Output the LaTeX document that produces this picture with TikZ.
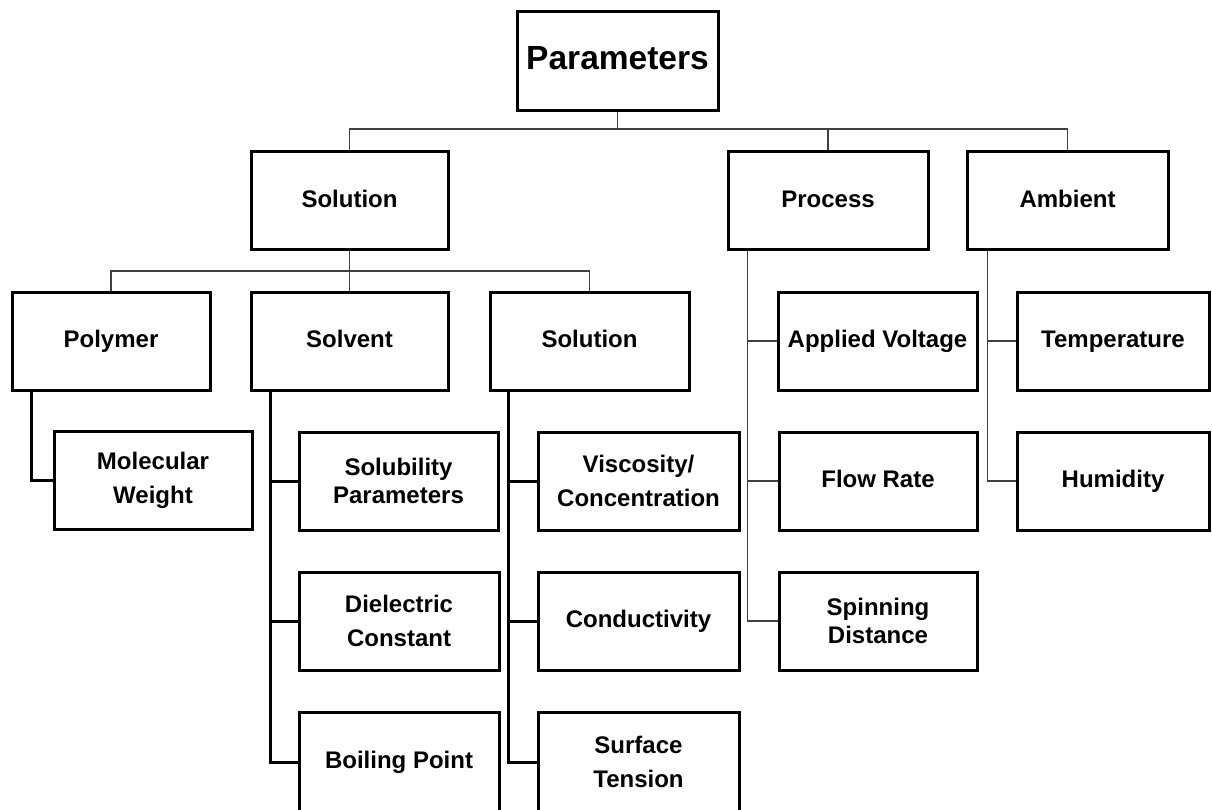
\documentclass[tikz,border=0pt]{standalone}
\usepackage{fontspec}
\setmainfont{Liberation Sans}
\begin{document}
\begin{tikzpicture}[x=1pt,y=-1pt,
  box/.style={draw=black, line width=3pt, fill=white, minimum width=199pt,
    minimum height=98pt, inner sep=2pt, align=center,
    font=\bfseries\fontsize{24}{34}\selectfont},
  one/.style={text height=17.2pt, text depth=4pt},
  tight/.style={font=\bfseries\fontsize{24}{28}\selectfont},
  bus/.style={draw=black!75, line width=1.3pt},
  trunk/.style={draw=black, line width=3pt}]
\useasboundingbox (0,0) rectangle (1212,810);

% top level
\node[box, minimum width=201pt, minimum height=99pt, text height=24pt, text depth=8pt,
      font=\bfseries\fontsize{33.5}{40}\selectfont] (params) at (617.5,61.5) {Parameters};

% second level
\node[box, one, minimum width=197pt] (solA) at (349.5,201) {Solution};
\node[box, one, minimum width=200pt] (proc) at (828,201) {Process};
\node[box, one, minimum width=201pt] (amb)  at (1067.5,201) {Ambient};

% third level
\node[box, one, minimum width=198pt] (poly) at (111,341) {Polymer};
\node[box, one, minimum width=197pt] (solv) at (349.5,341) {Solvent};
\node[box, one, minimum width=199pt] (solB) at (589.5,341) {Solution};

\node[box, minimum width=198pt] (molw) at (153,480) {Molecular\\Weight};

\node[box, tight] (solub) at (398.5,481) {Solubility\\Parameters};
\node[box, minimum width=200pt] (diel) at (399,621) {Dielectric\\Constant};
\node[box, one, minimum width=200pt, minimum height=100pt] (boil) at (399,762) {Boiling Point};

\node[box, minimum width=201pt] (visc) at (638.5,481) {Viscosity/\\Concentration};
\node[box, one, minimum width=201pt] (cond) at (638.5,621) {Conductivity};
\node[box, minimum width=201pt, minimum height=100pt] (surf) at (638.5,762) {Surface\\Tension};

\node[box, one] (volt) at (877.5,341) {Applied Voltage};
\node[box, one, minimum width=198pt] (flow) at (878,481) {Flow Rate};
\node[box, minimum width=198pt, tight] (spin) at (878,621) {Spinning\\Distance};

\node[box, one, minimum width=192pt] (temp)  at (1113,341) {Temperature};
\node[box, one, minimum width=192pt] (humid) at (1113,481) {Humidity};

% bus lines
\coordinate (busTop) at (617.5,129);
\coordinate (busSol) at (349.5,271);
\draw[bus] (params.south) -- (busTop);
\draw[bus] (solA.north) |- (busTop) -| (amb.north);
\draw[bus] (proc.north) -- (proc.north |- busTop);

\draw[bus] (solA.south) -- (busSol);
\draw[bus] (poly.north) |- (busSol) -| (solB.north);
\draw[bus] (solv.north) -- (solv.north |- busSol);

% polymer branch
\coordinate (tPoly) at ([xshift=21pt]poly.south west);
\draw[trunk] (tPoly) |- (molw.west);

% solvent branch
\coordinate (tSolv) at ([xshift=21pt]solv.south west);
\draw[trunk] (tSolv) |- (boil.west);
\draw[trunk] (tSolv |- solub.west) -- (solub.west);
\draw[trunk] (tSolv |- diel.west) -- (diel.west);

% solution branch
\coordinate (tSolB) at ([xshift=20pt]solB.south west);
\draw[trunk] (tSolB) |- (surf.west);
\draw[trunk] (tSolB |- visc.west) -- (visc.west);
\draw[trunk] (tSolB |- cond.west) -- (cond.west);

% process branch
\coordinate (tProc) at ([xshift=21pt]proc.south west);
\draw[bus] (tProc) |- (spin.west);
\draw[bus] (tProc |- volt.west) -- (volt.west);
\draw[bus] (tProc |- flow.west) -- (flow.west);

% ambient branch
\coordinate (tAmb) at ([xshift=22pt]amb.south west);
\draw[bus] (tAmb) |- (humid.west);
\draw[bus] (tAmb |- temp.west) -- (temp.west);
\end{tikzpicture}
\end{document}
